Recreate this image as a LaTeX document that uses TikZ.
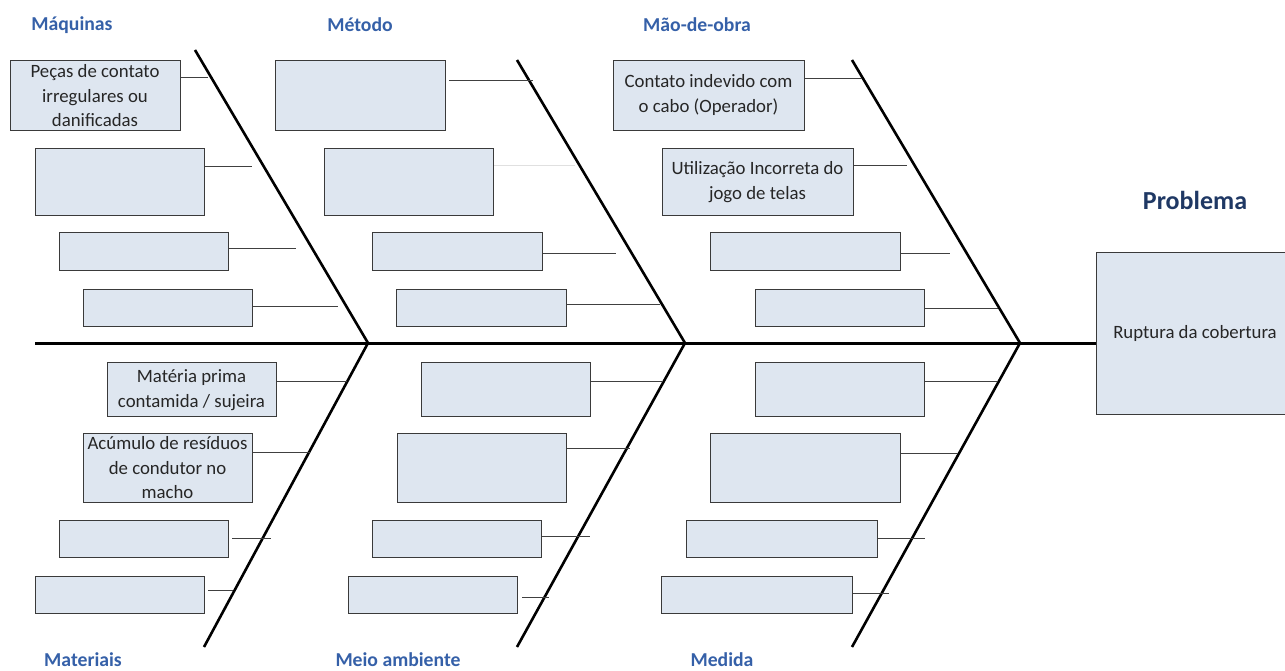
\documentclass[tikz,border=0pt]{standalone}
\usepackage{fontspec}
\setmainfont{Carlito}
\definecolor{boxfill}{HTML}{DEE6F0}
\definecolor{boxline}{HTML}{3A3A3A}
\definecolor{catblue}{HTML}{3560A8}
\definecolor{probblue}{HTML}{1F3864}
\tikzset{
  cause/.style={draw=boxline, fill=boxfill, line width=1.3pt, inner sep=0pt,
    anchor=north west},
  causetext/.style={font=\fontsize{18.8}{24.5}\selectfont, text=black!85, align=center},
  bone/.style={line width=2.6pt, black},
  spine/.style={line width=3pt, black},
  twig/.style={line width=1pt, black!75},
  faint/.style={line width=1pt, black!12},
  category/.style={font=\fontsize{19.7}{22}\selectfont\bfseries, text=catblue},
}
% place a cause box by its corners: x1,y1,x2,y2
\newcommand{\causebox}[6][]{%
  \node[cause, minimum width={#4-#2}, minimum height={#5-#3}, #1] (#6) at (#2,#3) {};}
\begin{document}
\begin{tikzpicture}[x=1pt,y=-1pt]
\useasboundingbox (0,0) rectangle (1285,671);

% problem head
\node[cause, minimum width=189, minimum height=162] (prob) at (1096,252) {};
\node[causetext] (probtxt) at (1195,333) {Ruptura da cobertura};
\node[font=\fontsize{26}{28}\selectfont\bfseries, text=probblue] (probtitle) at (1195,200) {Problema};

% spine
\coordinate (tail) at (35,343);
\draw[spine] (tail) -- (prob.west |- tail);

% junctions on the spine
\coordinate (j1) at (368,343);
\coordinate (j2) at (685,343);
\coordinate (j3) at (1020,343);
% bone tips
\coordinate (u1) at (195,50);
\coordinate (u2) at (517,60);
\coordinate (u3) at (852,60);
\coordinate (l1) at (204,647);
\coordinate (l2) at (517,647);
\coordinate (l3) at (852,647);
\draw[bone] (u1) -- (j1) -- (l1);
\draw[bone] (u2) -- (j2) -- (l2);
\draw[bone] (u3) -- (j3) -- (l3);

% category labels
\node[category] (cmaq) at (72,25) {Máquinas};
\node[category] (cmet) at (360,25) {Método};
\node[category] (cmao) at (697,25) {Mão-de-obra};
\node[category] (cmat) at (83,660) {Materiais};
\node[category] (cmei) at (398,660) {Meio ambiente};
\node[category] (cmed) at (722,660) {Medida};

% --- Máquinas
\causebox{10}{60}{180}{130}{a1}
\node[causetext] (a1t) at (95,96) {Peças de contato\\irregulares ou\\danificadas};
\causebox{35}{148}{204}{215}{a2}
\causebox{59}{232}{228}{270}{a3}
\causebox{83}{289}{252}{326}{a4}
\coordinate (a1e) at (208,78);
\coordinate (a2e) at (252,167);
\coordinate (a3e) at (296,248);
\coordinate (a4e) at (338,306);
\foreach \b in {a1,a2,a3,a4} \draw[twig] (\b.east |- \b e) -- (\b e);

% --- Método
\causebox{275}{60}{445}{130}{b1}
\causebox{324}{148}{493}{215}{b2}
\causebox{372}{232}{542}{270}{b3}
\causebox{396}{289}{566}{326}{b4}
\coordinate (b1e) at (533,81);
\coordinate (b2e) at (575,166);
\coordinate (b3e) at (616,253);
\coordinate (b4e) at (660,304);
\draw[twig] (b1.east |- b1e) ++(3,0) -- (b1e);
\draw[faint] (b2.east |- b2e) -- (b2e);
\draw[twig] (b3.east |- b3e) -- (b3e);
\draw[twig] (b4.east |- b4e) -- (b4e);

% --- Mão-de-obra
\causebox{613}{60}{804}{130}{c1}
\node[causetext] (c1t) at (708.5,95) {Contato indevido com\\o cabo (Operador)};
\causebox{662}{148}{853}{215}{c2}
\node[causetext] (c2t) at (757.5,182) {Utilização Incorreta do\\jogo de telas};
\causebox{710}{232}{900}{270}{c3}
\causebox{755}{289}{924}{326}{c4}
\coordinate (c1e) at (862,79);
\coordinate (c2e) at (907,166);
\coordinate (c3e) at (950,253);
\coordinate (c4e) at (998,308);
\foreach \b in {c1,c2,c3,c4} \draw[twig] (\b.east |- \b e) -- (\b e);

% --- Materiais
\causebox{107}{362}{276}{416}{d1}
\node[causetext] (d1t) at (191.5,390) {Matéria prima\\contamida / sujeira};
\causebox{83}{433}{252}{502}{d2}
\node[causetext] (d2t) at (167.5,468) {Acúmulo de resíduos\\de condutor no\\macho};
\causebox{59}{520}{228}{557}{d3}
\causebox{35}{576}{204}{613}{d4}
\coordinate (d1e) at (347,381);
\coordinate (d2e) at (310,452);
\coordinate (d3e) at (271,538);
\coordinate (d4e) at (233,590);
\draw[twig] (d1.east |- d1e) -- (d1e);
\draw[twig] (d2.east |- d2e) -- (d2e);
\draw[twig] (d3.east |- d3e) ++(3,0) -- (d3e);
\draw[twig] (d4.east |- d4e) ++(3,0) -- (d4e);

% --- Meio ambiente
\causebox{421}{362}{590}{416}{e1}
\causebox{397}{433}{566}{502}{e2}
\causebox{372}{520}{541}{557}{e3}
\causebox{348}{576}{517}{613}{e4}
\coordinate (e1e) at (663,381);
\coordinate (e2e) at (630,448);
\coordinate (e3e) at (590,536);
\coordinate (e4e) at (549,597);
\draw[twig] (e1.east |- e1e) -- (e1e);
\draw[twig] (e2.east |- e2e) -- (e2e);
\draw[twig] (e3.east |- e3e) -- (e3e);
\draw[twig] (e4.east |- e4e) ++(4,0) -- (e4e);

% --- Medida
\causebox{755}{362}{924}{416}{f1}
\causebox{710}{433}{900}{502}{f2}
\causebox{686}{520}{877}{557}{f3}
\causebox{661}{576}{852}{613}{f4}
\coordinate (f1e) at (997,381);
\coordinate (f2e) at (958,453);
\coordinate (f3e) at (925,538);
\coordinate (f4e) at (889,593);
\foreach \b in {f1,f2,f3,f4} \draw[twig] (\b.east |- \b e) -- (\b e);
\end{tikzpicture}
\end{document}
